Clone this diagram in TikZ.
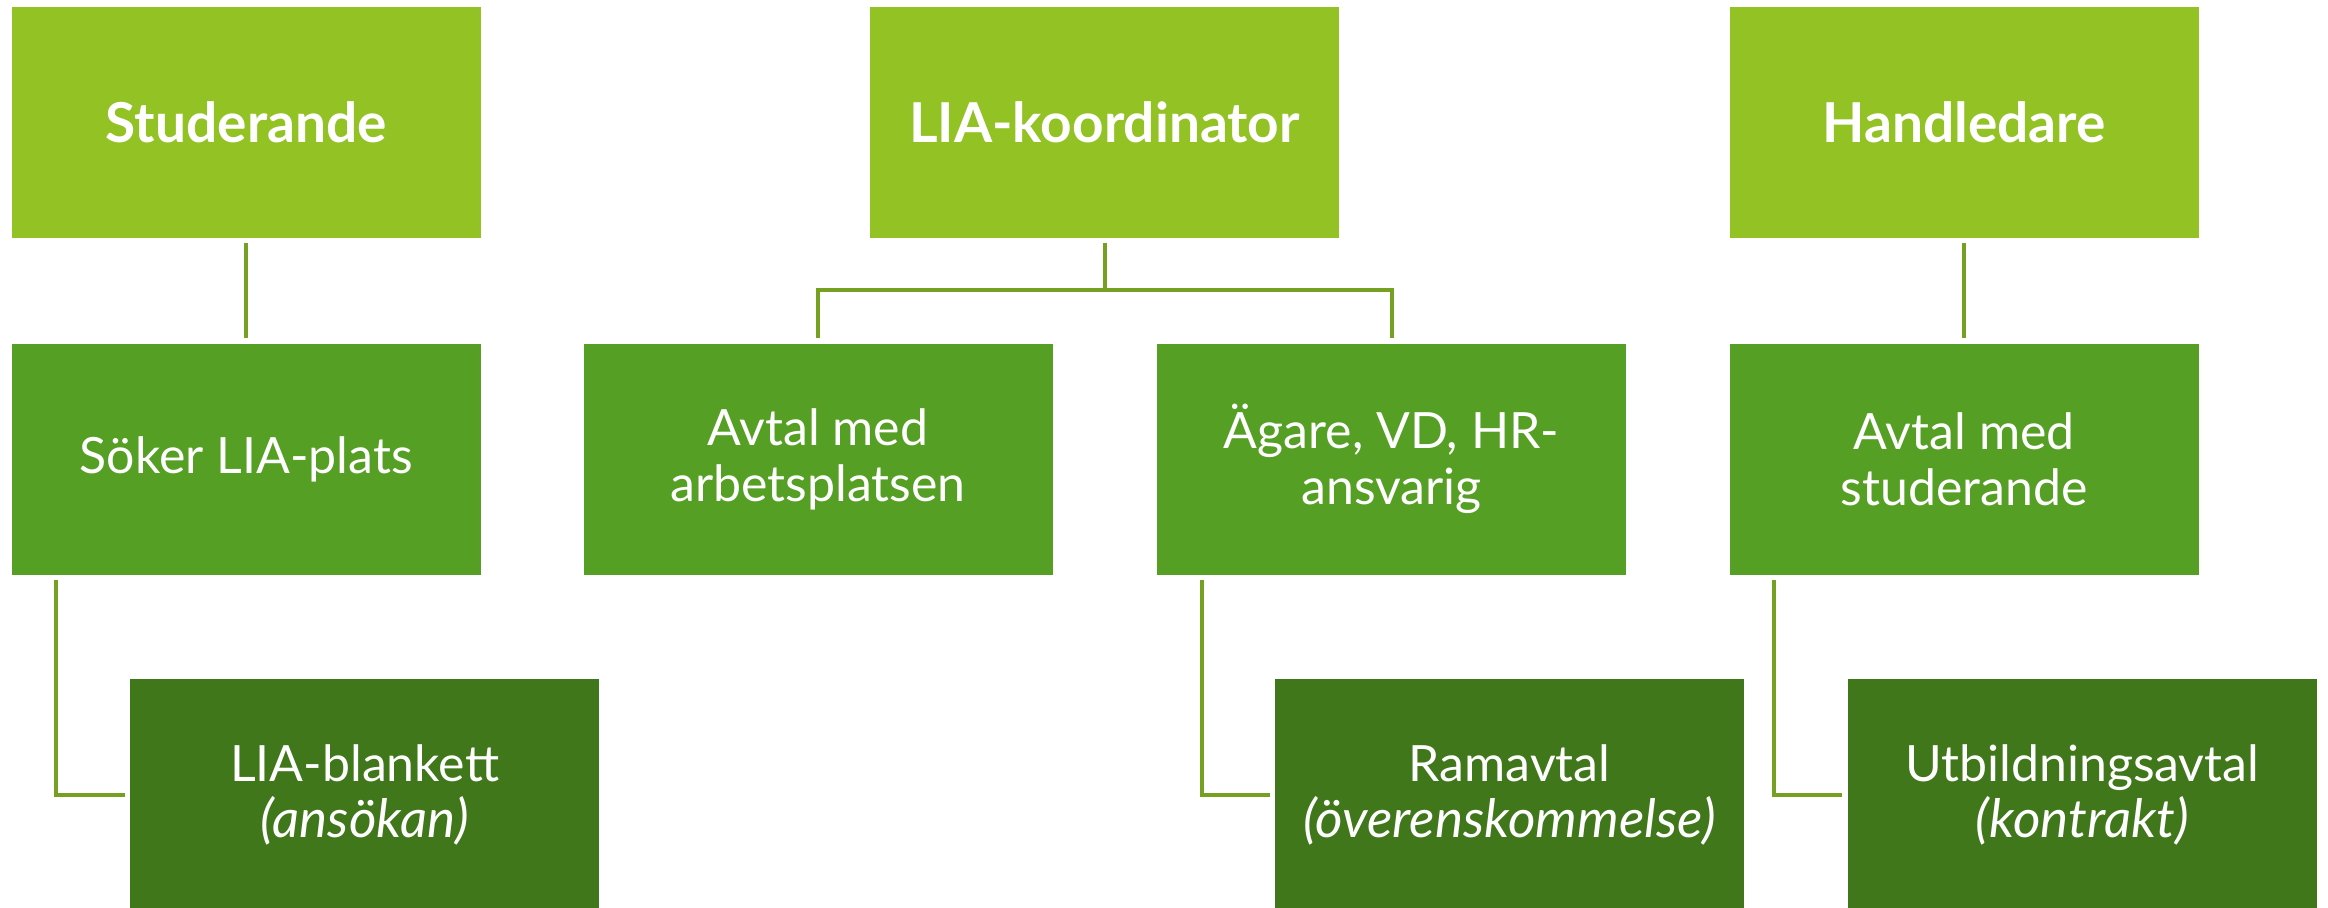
\documentclass[tikz,border=0pt]{standalone}
\usepackage{fontspec}
\setmainfont{Lato}
\definecolor{ljusgron}{HTML}{93C225}
\definecolor{mellangron}{HTML}{55A024}
\definecolor{morkgron}{HTML}{3F771A}
\definecolor{linjegron}{HTML}{76A022}
\newcommand{\kursiv}[1]{{\fontsize{26.5}{28}\selectfont\itshape #1}}
\begin{document}
\begin{tikzpicture}[x=0.5pt,y=-0.5pt,
    ruta/.style={minimum width=234.5pt,minimum height=115.5pt,inner sep=0pt,
      text=white,align=center,font=\fontsize{25}{28}\selectfont},
    niva1/.style={ruta,fill=ljusgron,font=\fontsize{27.5}{30}\selectfont\bfseries},
    niva2/.style={ruta,fill=mellangron},
    niva3/.style={ruta,fill=morkgron},
    linje/.style={draw=linjegron,line width=2pt}]
    \useasboundingbox (0,0) rectangle (2328,907);
    % rubriker
    \node[niva1] (stud) at (246.3,122.5) {Studerande};
    \node[niva1] (koord) at (1104.5,122.5) {LIA-koordinator};
    \node[niva1] (handl) at (1964.2,122.5) {Handledare};
    % andra raden
    \node[niva2] (soker) at (246.3,459) {Söker LIA-plats};
    \node[niva2] (avtal) at (818.1,459) {Avtal med\\arbetsplatsen};
    \node[niva2] (agare) at (1391.5,459) {Ägare, VD, HR-\\ansvarig};
    \node[niva2] (avtalstud) at (1964.2,459) {Avtal med\\studerande};
    % tredje raden
    \node[niva3] (blankett) at (364.6,794.5) {LIA-blankett\\\kursiv{(ansökan)}};
    \node[niva3] (ramavtal) at (1509.5,794.5) {Ramavtal\\\kursiv{(överenskommelse)}};
    \node[niva3] (utbavtal) at (2082.2,794.5) {Utbildningsavtal\\\kursiv{(kontrakt)}};
    \coordinate (gren) at (1104.5,290);
    % linjer
    \draw[linje] ([yshift=-2.5pt]stud.south) -- ([yshift=2.5pt]soker.north);
    \draw[linje] ([yshift=-2.5pt]handl.south) -- ([yshift=2.5pt]avtalstud.north);
    \draw[linje] ([yshift=-2.5pt]koord.south) -- (gren);
    \draw[linje] ([yshift=2.5pt]avtal.north) |- (gren) -| ([yshift=2.5pt]agare.north);
    \draw[linje] ([xshift=22.5pt,yshift=-2.5pt]soker.south west) |- ([xshift=-2.5pt]blankett.west);
    \draw[linje] ([xshift=22.5pt,yshift=-2.5pt]agare.south west) |- ([xshift=-2.5pt]ramavtal.west);
    \draw[linje] ([xshift=22.5pt,yshift=-2.5pt]avtalstud.south west) |- ([xshift=-2.5pt]utbavtal.west);
\end{tikzpicture}
\end{document}
